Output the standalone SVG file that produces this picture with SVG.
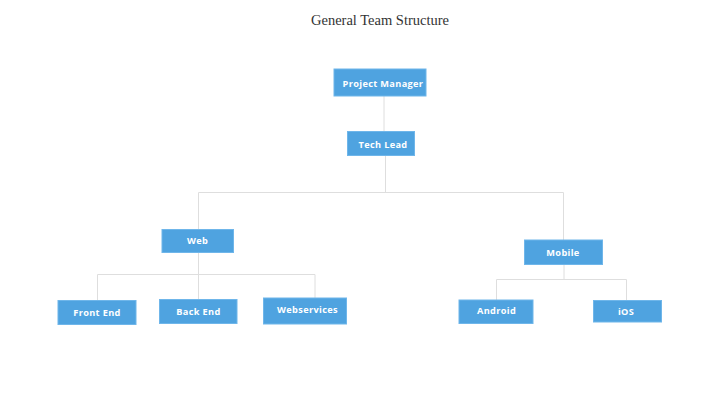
<svg xmlns="http://www.w3.org/2000/svg" width="720" height="405" viewBox="0 0 720 405">
<style>
.box{fill:#4fa3e0;stroke:#6fb6ea;stroke-width:1}
.lbl{font-family:"Open Sans","DejaVu Sans",sans-serif;font-weight:bold;font-size:9.2px;letter-spacing:0.35px;fill:#ffffff;text-anchor:middle}
.ln{fill:none;stroke:#dedede;stroke-width:1}
.title{font-family:"Liberation Serif","DejaVu Serif",serif;font-size:14.5px;fill:#333333;text-anchor:middle}
</style>
<rect width="720" height="405" fill="#ffffff"/>
<text class="title" x="380" y="24.5">General Team Structure</text>
<g id="connectors">
<path class="ln" d="M384 96V131"/>
<path class="ln" d="M385.5 155V192.5"/>
<path class="ln" d="M198.5 229V192.5H563.5V240"/>
<path class="ln" d="M198.5 252V274.5"/>
<path class="ln" d="M97.5 300V274.5H315V298"/>
<path class="ln" d="M198.5 274.5V299"/>
<path class="ln" d="M564 264V279.5"/>
<path class="ln" d="M496.5 300V279.5H626.5V300"/>
</g>
<g id="pm"><rect class="box" x="334" y="69" width="92" height="27"/><text class="lbl" x="383" y="86.5">Project Manager</text></g>
<g id="techlead"><rect class="box" x="347.5" y="131.5" width="67" height="24"/><text class="lbl" x="383" y="148">Tech Lead</text></g>
<g id="web"><rect class="box" x="162" y="229.5" width="71.5" height="23"/><text class="lbl" x="197.5" y="244">Web</text></g>
<g id="mobile"><rect class="box" x="524.5" y="240" width="78" height="24.5"/><text class="lbl" x="563" y="255.5">Mobile</text></g>
<g id="frontend"><rect class="box" x="58" y="300.5" width="78" height="24"/><text class="lbl" x="97" y="316">Front End</text></g>
<g id="backend"><rect class="box" x="159.5" y="299.5" width="77.5" height="24"/><text class="lbl" x="198.5" y="314.5">Back End</text></g>
<g id="webservices"><rect class="box" x="263.5" y="298" width="83" height="26"/><text class="lbl" x="307.5" y="313">Webservices</text></g>
<g id="android"><rect class="box" x="459" y="300" width="74" height="23.5"/><text class="lbl" x="496.5" y="314">Android</text></g>
<g id="ios"><rect class="box" x="593.5" y="300.5" width="68" height="21.5"/><text class="lbl" x="626" y="315">iOS</text></g>
</svg>
